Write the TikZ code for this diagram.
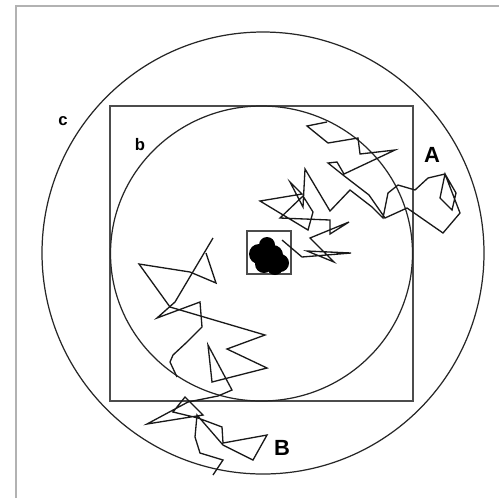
\documentclass[tikz,border=0pt]{standalone}
\usepackage{fontspec}
\setmainfont{Liberation Sans}
\usepackage{tikz}
\usetikzlibrary{positioning}

\begin{document}
\begin{tikzpicture}[
    x=0.02cm, y=-0.02cm,
    ring/.style={draw=black!85, line width=0.7pt},
    walk/.style={draw=black!90, line width=0.75pt, line join=miter},
    frame/.style={draw=black!30, line width=0.8pt},
    lbl/.style={font=\fontsize{9.5}{11}\selectfont\bfseries, inner sep=0pt},
    biglbl/.style={font=\fontsize{12.5}{14}\selectfont\bfseries, inner sep=0pt}
]
    \useasboundingbox (0,0) rectangle (499,498);
    \draw[frame] (16,498) -- (16,6) -- (499,6);

    % rings and boxes
    \draw[ring] (263,253) circle[radius=221];
    \draw[ring, draw=black!70, line width=0.65pt] (110,106) rectangle (413,401);
    \draw[ring] (261.5,253.5) ellipse[x radius=151, y radius=147.5];
    \draw[ring, draw=black!70, line width=0.6pt] (247,231) rectangle (291,274);

    % the seed cluster
    \foreach \cx/\cy/\r in {267/245/8, 259/254/10, 273/255/10, 280/263/9, 264/264/9, 275/267/8, 268/258/11}
        \fill (\cx,\cy) circle[radius=\r];

    % walk A
    \draw[walk] (282,240) -- (302,257) -- (351,253) -- (307,251) -- (334,262) -- (310,238)
        -- (349,222) -- (330,234) -- (330,220) -- (280,218) -- (303,196) -- (313,212)
        -- (308,230) -- (260,201) -- (302,194) -- (290,182) -- (303,207) -- (305,169)
        -- (330,211) -- (350,190) -- (372,207) -- (383,218) -- (388,193) -- (398,185)
        -- (415,190) -- (428,178) -- (445,174) -- (456,193) -- (452,210) -- (440,198)
        -- (445,174) -- (460,213) -- (443,233) -- (407,208) -- (385,218) -- (369,195)
        -- (343,175) -- (328,163) -- (337,162) -- (344,174) -- (395,150) -- (360,154)
        -- (358,138) -- (328,143) -- (307,126) -- (327,122);

    % walk B
    \draw[walk] (206,253) -- (216,283) -- (190,272) -- (139,264) -- (170,307) -- (265,335)
        -- (227,349) -- (267,368) -- (212,382) -- (208,345) -- (232,390) -- (218,396)
        -- (188,402) -- (147,424) -- (203,415) -- (185,397) -- (173,412) -- (198,418)
        -- (222,427) -- (223,443) -- (267,435) -- (253,460) -- (223,445) -- (197,415)
        -- (195,437) -- (200,453) -- (223,460) -- (213,475);
    \draw[walk] (213,238) -- (175,302) -- (157,318) -- (200,302) -- (202,327) -- (187,342)
        -- (173,355) -- (170,362) -- (177,377);

    \node[lbl] (labc) at (63,121) {c};
    \node[lbl] (labb) at (140,145) {b};
    \node[biglbl] (labA) at (432,155) {A};
    \node[biglbl] (labB) at (282,448) {B};
\end{tikzpicture}
\end{document}
